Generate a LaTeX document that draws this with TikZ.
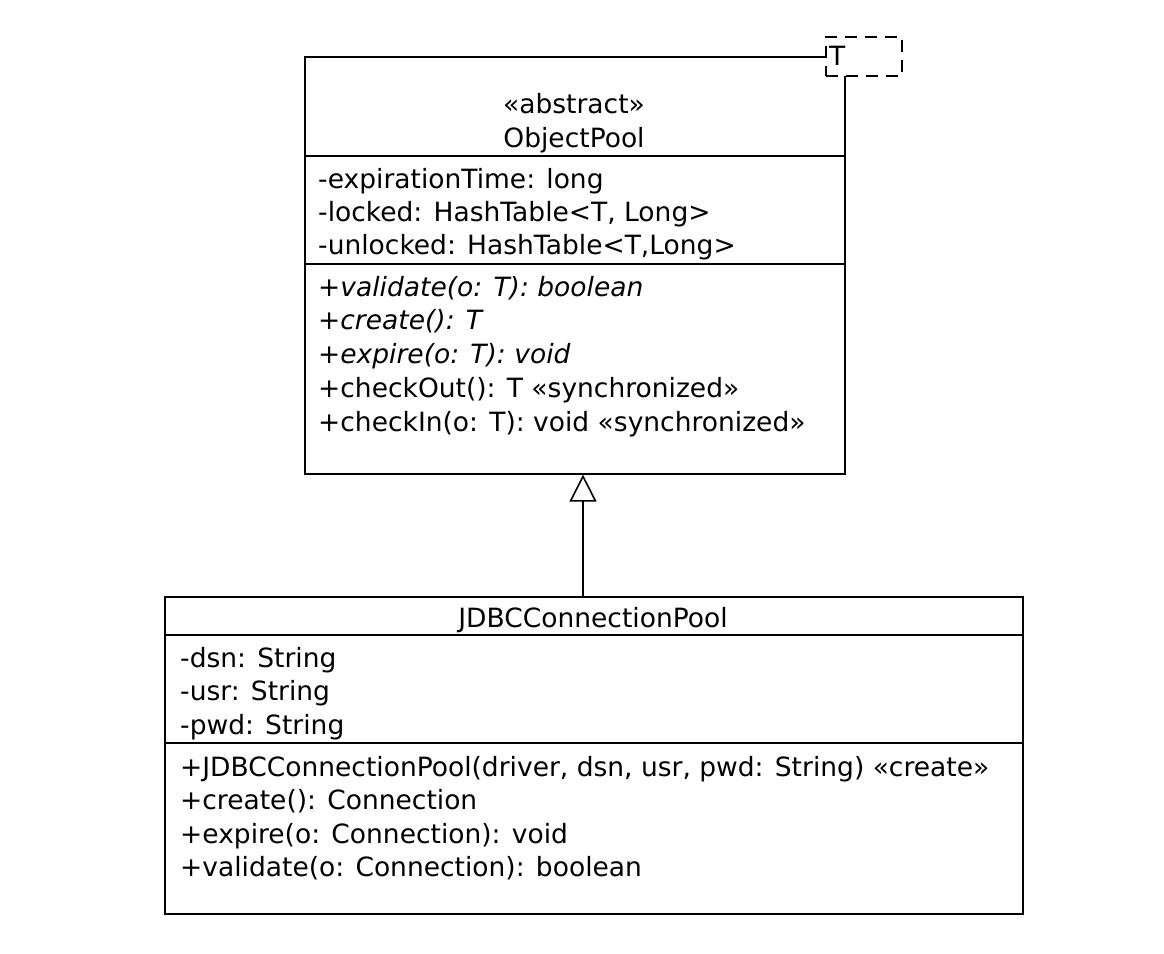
\documentclass[tikz,border=0pt]{standalone}
\usepackage{fontspec}
\setmainfont{DejaVu Sans}
\usetikzlibrary{arrows.meta}
\tikzset{
  box/.style={draw, line width=1.6pt, fill=white, inner sep=0pt, anchor=north west},
  sep/.style={line width=1.6pt},
  txt/.style={anchor=mid west, inner sep=0pt, font=\fontsize{26.5}{30}\selectfont},
  ctxt/.style={anchor=mid, inner sep=0pt, font=\fontsize{26.5}{30}\selectfont},
  tbox/.style={draw, line width=1.6pt, dash pattern=on 12pt off 8pt, fill=white, inner sep=0pt, anchor=north west, minimum width=76pt, minimum height=39pt},
  inherit/.style={line width=1.6pt, -{Triangle[open, length=27pt, width=27pt, line width=1.6pt]}}
}
\begin{document}
\begin{tikzpicture}[x=1pt,y=-1pt]
\useasboundingbox (0,0) rectangle (1164,953);
% ObjectPool
\node[box, minimum width=540pt, minimum height=417pt] (op) at (304,56) {};
\draw[sep] (304,156) -- (844,156);
\draw[sep] (304,264) -- (844,264);
\node[tbox] (tp) at (825,36) {};
\node[txt] (tl) at (829,63) {T};
\node[ctxt] (st) at (574,111) {«abstract»};
\node[ctxt] (nm) at (574,145) {ObjectPool};
\node[txt] (a1) at (318,186) {-expirationTime: long};
\node[txt] (a2) at (318,219) {-locked: HashTable<T, Long>};
\node[txt] (a3) at (318,252) {-unlocked: HashTable<T,Long>};
\node[txt] (m1) at (318,294) {\itshape +validate(o: T): boolean};
\node[txt] (m2) at (318,327) {\itshape +create(): T};
\node[txt] (m3) at (318,361) {\itshape +expire(o: T): void};
\node[txt] (m4) at (318,395) {+checkOut(): T «synchronized»};
\node[txt] (m5) at (318,429) {+checkIn(o: T): void «synchronized»};
% JDBCConnectionPool
\node[box, minimum width=858pt, minimum height=317pt] (jp) at (164,596) {};
\draw[sep] (164,635) -- (1022,635);
\draw[sep] (164,743) -- (1022,743);
\node[ctxt] (jn) at (593,625) {JDBCConnectionPool};
\node[txt] (b1) at (180,665) {-dsn: String};
\node[txt] (b2) at (180,698) {-usr: String};
\node[txt] (b3) at (180,732) {-pwd: String};
\node[txt] (n1) at (180,774) {+JDBCConnectionPool(driver, dsn, usr, pwd: String) «create»};
\node[txt] (n2) at (180,807) {+create(): Connection};
\node[txt] (n3) at (180,841) {+expire(o: Connection): void};
\node[txt] (n4) at (180,874) {+validate(o: Connection): boolean};
% generalization
\draw[inherit] (jp.north -| 583,0) -- (op.south -| 583,0);
\end{tikzpicture}
\end{document}
